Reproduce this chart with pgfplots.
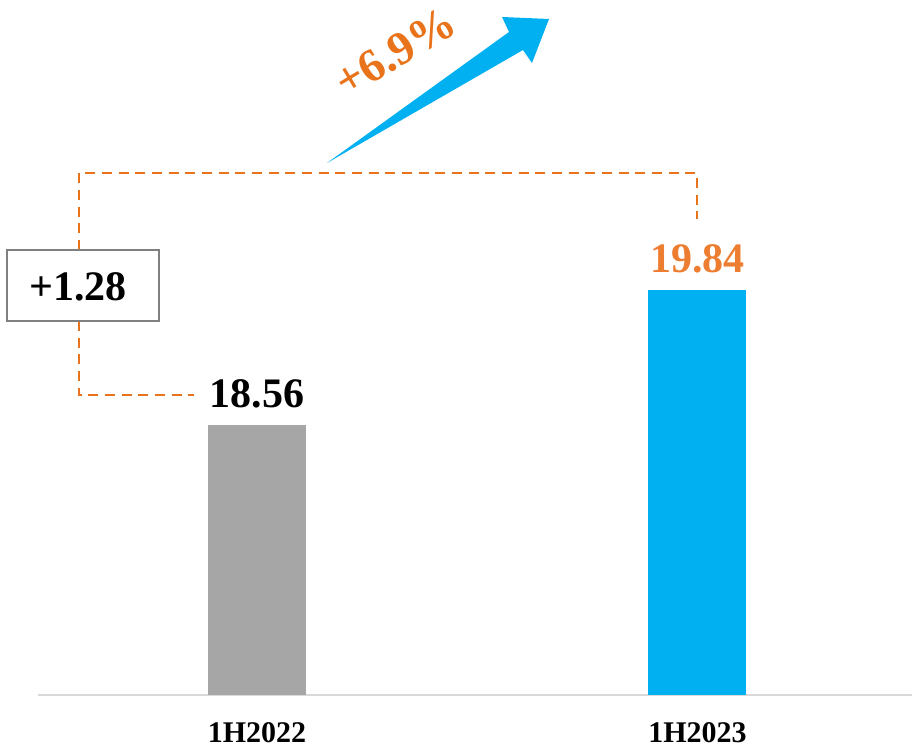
\documentclass[border=0pt]{standalone}
\usepackage{fontspec}
\setmainfont{Liberation Serif}
\usepackage{pgfplots}
\pgfplotsset{compat=1.18}
\definecolor{barGray}{HTML}{A6A6A6}
\definecolor{barBlue}{HTML}{00B0F0}
\definecolor{valOrange}{HTML}{ED7D31}
\definecolor{dashOrange}{HTML}{E8731A}
\definecolor{boxGray}{HTML}{808080}
\definecolor{baseGray}{HTML}{D9D9D9}
\begin{document}
\begin{tikzpicture}
\useasboundingbox (-22.8pt,-33pt) rectangle (524.4pt,417pt);
\begin{axis}[
  at={(0,0)}, anchor=south west,
  scale only axis, width=524.4pt, height=417pt,
  xmin=-0.4972, xmax=1.4870, ymin=16, ymax=22.59,
  axis x line*=bottom, axis y line=none,
  x axis line style={draw=baseGray, line width=1.2pt},
  xtick={0,1}, xticklabels={1H2022,1H2023},
  major tick length=0pt,
  xticklabel style={anchor=base, yshift=-28.8pt, font=\bfseries\fontsize{18}{21}\selectfont},
  ytick=\empty,
  /pgf/number format/assume math mode=true,
  /pgf/number format/fixed, /pgf/number format/precision=2,
]
\addplot[ybar, bar width=58.8pt, bar shift=0pt, fill=barGray, draw=none,
  nodes near coords,
  every node near coord/.append style={anchor=base, yshift=10.8pt, text=black, font=\bfseries\fontsize{25.2}{30}\selectfont}]
  coordinates {(0,18.56)};
\addplot[ybar, bar width=58.8pt, bar shift=0pt, fill=barBlue, draw=none,
  nodes near coords,
  every node near coord/.append style={anchor=base, yshift=10.8pt, text=valOrange, font=\bfseries\fontsize{25.2}{30}\selectfont}]
  coordinates {(1,19.84)};
\end{axis}
\begin{scope}[x=0.6pt, y=-0.6pt, shift={(-22.8pt,417pt)}]
\draw[dashOrange, line width=1.5pt, dash pattern=on 6pt off 4pt] (79,250) -- (79,173) -- (697,173) -- (697,219);
\draw[dashOrange, line width=1.5pt, dash pattern=on 6pt off 4pt] (79,321) -- (79,395) -- (194,395);
\draw[boxGray, line width=1.2pt, fill=white] (7,250) rectangle (159,321);
\node[font=\bfseries\fontsize{25.2}{30}\selectfont, inner sep=0pt] at (78,287) {+1.28};
\fill[barBlue] (327,163) -- (509,32) -- (502,17) -- (549,19) -- (532,63) -- (523,50) -- cycle;
\node[rotate=31, text=dashOrange, inner sep=0pt, font=\bfseries\fontsize{28}{32}\selectfont] at (395,52) {+6.9\%};
\end{scope}
\end{tikzpicture}
\end{document}
